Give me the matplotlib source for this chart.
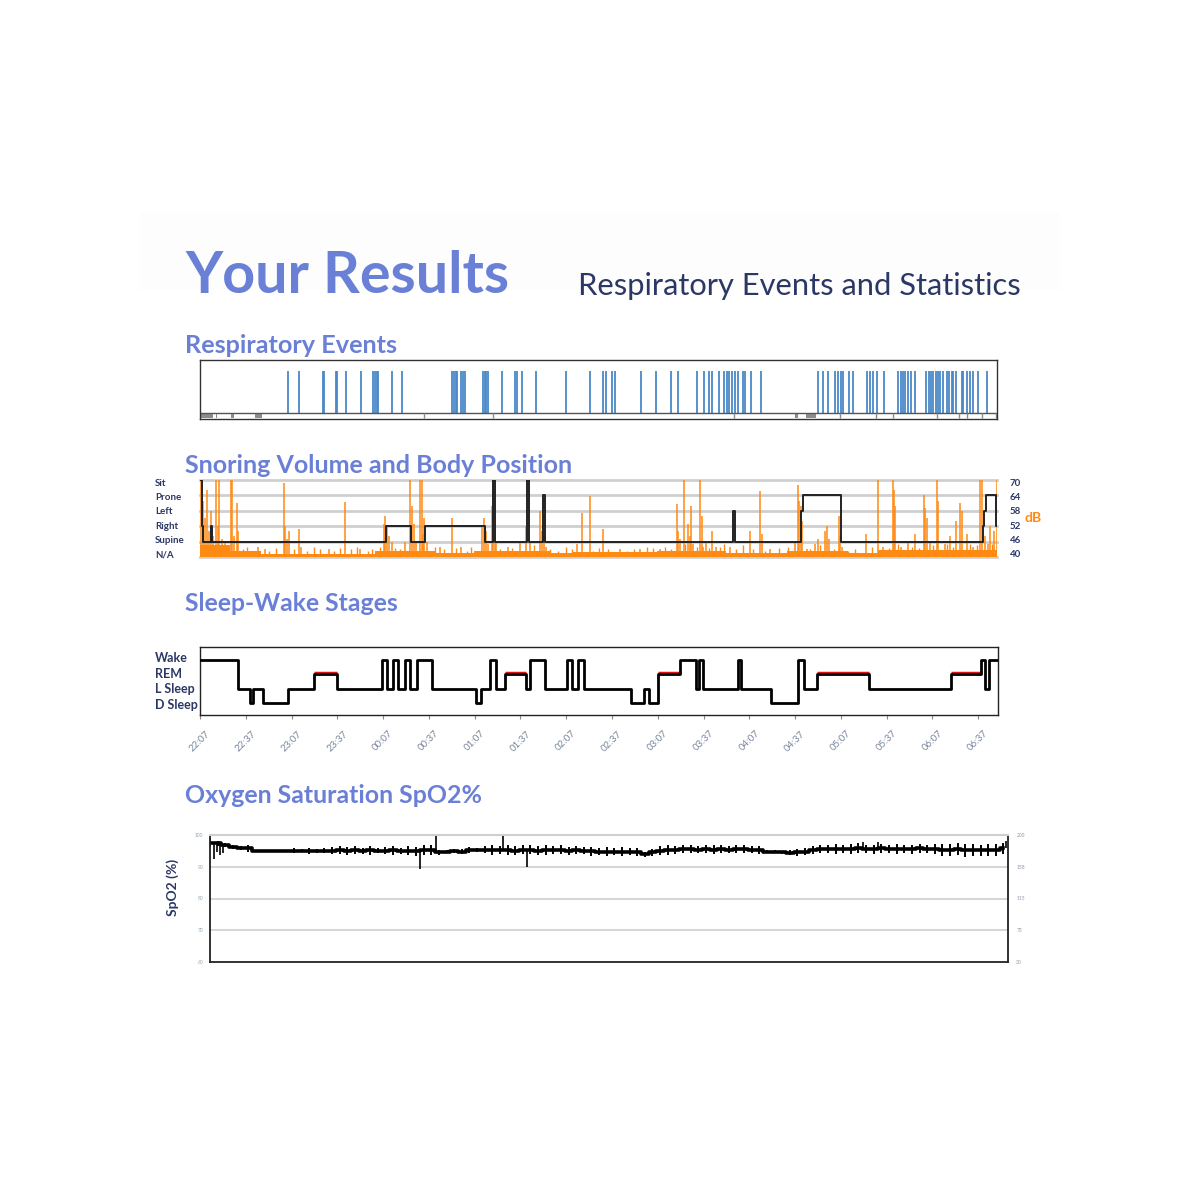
import numpy as np
import matplotlib
matplotlib.use('Agg')
import matplotlib.pyplot as plt
from matplotlib.patches import Rectangle

plt.rcParams['font.family'] = ['Lato', 'DejaVu Sans']

# ---- data (x = minutes since 22:07) ----
night_len = 523

event_t = [57.9, 65.2, 80.5, 81.4, 89.0, 89.9, 95.6, 105.8, 113.7, 114.8, 115.9, 116.8,
           126.2, 132.6, 165.6, 166.7, 167.7, 168.7, 171.3, 172.4, 173.9, 185.9, 187.0,
           188.0, 189.1, 198.0, 206.7, 208.0, 211.6, 220.5, 240.0, 255.6, 264.2, 266.4,
           270.2, 272.4, 289.2, 299.0, 308.9, 313.7, 326.2, 330.9, 334.2, 335.7, 340.4,
           344.1, 345.7, 347.3, 348.9, 351.1, 353.2, 356.5, 357.6, 361.6, 367.9, 405.3,
           408.9, 411.9, 416.7, 418.8, 420.4, 422.0, 426.1, 428.3, 437.9, 439.7, 441.4,
           444.0, 448.9, 458.0, 459.8, 461.0, 462.6, 464.8, 466.3, 469.2, 476.2, 478.4,
           479.7, 481.1, 483.0, 484.5, 485.6, 487.8, 490.0, 491.6, 493.3, 494.4, 496.1,
           499.8, 500.9, 503.1, 505.3, 507.0, 510.7, 516.6]
grey_spans = [(0, 8.5), (10.3, 1.1), (20.3, 2.0), (36.1, 4.8), (390.3, 2.2), (397.8, 6.2)]
grey_ticks = [147.2, 192.4, 350.2, 419.9, 443.3, 455.0, 483.4, 498.3, 503.1, 513.1, 522.3]

pos_names = ['N/A', 'Supine', 'Right', 'Left', 'Prone', 'Sit']
pos_db = [40, 46, 52, 58, 64, 70]
pos_t = [0, 1.0, 2.2, 7.0, 8.1, 121.8, 138.3, 147.6, 187.0, 192.2, 193.6, 214.4, 216.0,
         224.9, 226.4, 350.0, 350.8, 394.4, 395.4, 420.6, 513.5, 514.5, 515.8, 522.6]
pos_v = ['Sit', 'Right', 'Supine', 'Right', 'Supine', 'Right', 'Supine', 'Right', 'Supine',
         'Sit', 'Supine', 'Sit', 'Supine', 'Prone', 'Supine', 'Left', 'Supine', 'Left',
         'Prone', 'Supine', 'Right', 'Left', 'Prone', 'Right']

base_t = [0, 20, 40, 115, 155, 180, 230, 245, 300, 345, 385, 425, 445, 523]
base_db = [44.5, 42.5, 41.3, 42.3, 41.5, 42.3, 41.5, 41.8, 42.3, 41.5, 42.5, 41.6, 42.6, 42.6]

snore_t = [0.7, 2.0, 3.3, 4.6, 5.9, 7.2, 8.5, 10.5, 11.8, 12.5, 14.4, 16.4, 20.1, 21.2, 22.3,
           24.3, 24.9, 38.1, 42.7, 55.3, 56.1, 57.1, 58.4, 65.2, 66.3, 84.7, 95.1, 105.0,
           120.7, 121.7, 122.7, 124.0, 126.0, 134.5, 137.8, 139.1, 140.4, 141.7, 144.4,
           145.5, 146.3, 147.3, 148.9, 157.5, 165.2, 171.3, 185.0, 186.4, 187.7, 189.0,
           191.6, 192.3, 193.3, 194.2, 202.1, 210.0, 213.9, 216.5, 223.1, 224.4, 225.7,
           227.0, 247.4, 250.5, 255.9, 264.3, 275.6, 288.7, 301.9, 312.8, 313.7, 315.0,
           317.8, 320.2, 321.5, 322.2, 323.5, 328.1, 329.2, 330.3, 332.0, 336.0, 338.6,
           347.8, 360.9, 367.5, 368.6, 374.0, 390.4, 392.4, 393.1, 394.4, 395.0, 398.3,
           403.6, 405.5, 410.1, 411.4, 412.8, 419.3, 419.9, 421.3, 437.0, 444.7, 448.2,
           454.7, 455.4, 456.1, 460.0, 464.6, 469.2, 475.1, 475.7, 477.1, 479.0, 483.4,
           484.3, 488.9, 492.2, 496.1, 498.7, 500.0, 503.3, 507.3, 511.8, 513.2, 515.1,
           517.1, 518.4, 521.0, 522.8]
snore_db = [70, 62, 55, 66, 50, 58, 48, 70, 52, 70, 47, 46, 70, 70, 48,
            61, 50, 44, 43, 69, 52, 47, 50, 51, 44, 43, 61.6, 43,
            53, 56, 52, 48, 46, 46, 70, 60, 53, 46, 70,
            70, 49, 55, 46, 44, 55, 44, 52, 55, 50, 45,
            60, 70, 50, 46, 44, 46, 52, 46, 58, 50, 48,
            44, 45, 57, 63.6, 51, 43, 43, 43, 60.5, 50, 47,
            70, 53, 48, 60, 45, 70, 56, 44, 46, 50, 44,
            44, 50, 65.6, 49, 43, 46, 68, 62, 60, 54, 43,
            45, 47, 50, 52, 47, 56, 48, 44, 49, 70, 44,
            70, 66, 60, 44, 46, 49, 64, 59, 55, 46, 70,
            62, 45, 48, 54, 61, 58, 49, 44, 70, 70, 48,
            45, 52, 50, 70]
small_t = [28, 31, 45, 50, 62, 70, 75, 79, 88, 92, 99, 103, 110, 113, 118, 128, 131, 150, 154,
           160, 168, 175, 178, 197, 205, 219, 230, 235, 240, 244, 258, 262, 268, 280, 285, 293,
           297, 305, 309, 318, 326, 334, 341, 344, 352, 356, 363, 371, 380, 386, 400, 407, 416,
           425, 430, 441, 452, 458, 467, 472, 481, 490, 494, 505, 510, 520]
small_db = [43, 44, 42.5, 43.5, 43, 42.5, 44, 43, 42.5, 43.5, 43, 44, 42.5, 43, 44, 43.5, 43,
            42.5, 44, 43, 43.5, 42.5, 44, 43, 43.5, 44.5, 43, 42.5, 44, 43, 42.5, 43.5, 43,
            42.5, 43, 44, 43.5, 44, 43, 45, 44, 43.5, 44, 45, 43, 44.5, 43, 42.5, 43.5, 44,
            43, 44.5, 43, 42.5, 43, 44, 43.5, 45, 44, 43.5, 44.5, 45, 44, 45, 44.5, 45]

stage_names = ['D Sleep', 'L Sleep', 'REM', 'Wake']
stage_code = {'D': 1, 'L': 2, 'R': 3, 'W': 4}
stage_t = [0, 25.1, 32.8, 35.0, 41.3, 57.5, 74.6, 89.9, 119.1, 122.4, 126.4, 129.6, 134.4,
           137.8, 142.0, 152.0, 181.1, 184.4, 190.3, 194.2, 200.1, 213.9, 216.5, 226.2,
           240.3, 243.8, 247.6, 251.6, 282.7, 291.2, 294.4, 300.2, 314.9, 324.8, 327.0,
           329.9, 352.3, 354.5, 374.3, 392.2, 395.6, 404.4, 438.4, 492.3, 512.0, 514.8, 517.0]
stage_v = ['W', 'L', 'D', 'L', 'D', 'L', 'R', 'L', 'W', 'L', 'W', 'L', 'W', 'L', 'W', 'L',
           'D', 'L', 'W', 'L', 'R', 'L', 'W', 'L', 'W', 'L', 'W', 'L', 'D', 'L', 'D', 'R',
           'W', 'L', 'W', 'L', 'W', 'L', 'D', 'W', 'L', 'R', 'L', 'R', 'W', 'L', 'W']
tick_t = [0, 30, 60, 90, 120, 150, 180, 210, 240, 270, 300, 330, 360, 390, 420, 450, 480, 510]
tick_lbl = ['22:07', '22:37', '23:07', '23:37', '00:07', '00:37', '01:07', '01:37', '02:07',
            '02:37', '03:07', '03:37', '04:07', '04:37', '05:07', '05:37', '06:07', '06:37']

spo2_t = [0, 5, 10, 15, 20, 25, 30, 35, 40, 45, 50, 55, 60, 65, 70, 75, 80, 85, 90, 95, 100,
          105, 110, 115, 120, 125, 130, 135, 140, 145, 150, 155, 160, 165, 170, 175, 180, 185,
          190, 195, 200, 205, 210, 215, 220, 225, 230, 235, 240, 245, 250, 255, 260, 265, 270,
          275, 280, 285, 290, 295, 300, 305, 310, 315, 320, 325, 330, 335, 340, 345, 350, 355,
          360, 365, 370, 375, 380, 385, 390, 395, 400, 405, 410, 415, 420, 425, 430, 435, 440,
          445, 450, 455, 460, 465, 470, 475, 480, 485, 490, 495, 500, 505, 510, 515, 520]
spo2_hi = [98.9, 98.2, 97.6, 96.9, 96.6, 97.0, 95.4, 95.3, 95.4, 95.3, 95.4, 95.9, 95.6, 96.0,
           95.7, 95.8, 96.1, 96.5, 96.2, 96.6, 96.0, 96.5, 95.8, 96.3, 96.6, 96.0, 96.4, 96.2,
           97.0, 96.8, 95.4, 95.2, 95.5, 95.6, 96.3, 96.0, 96.4, 96.8, 96.5, 96.9, 96.6, 96.8,
           96.7, 96.4, 96.9, 96.5, 96.7, 96.3, 96.6, 96.2, 96.3, 96.0, 96.2, 95.8, 96.1, 95.9,
           96.0, 94.8, 95.6, 96.4, 96.8, 96.5, 96.9, 96.8, 96.6, 97.0, 96.7, 96.8, 96.5, 96.7,
           96.9, 96.4, 96.6, 95.4, 95.2, 95.0, 95.3, 95.5, 95.8, 96.6, 97.0, 96.8, 97.3, 96.9,
           97.1, 97.4, 96.8, 97.0, 97.2, 96.9, 97.1, 96.8, 97.0, 97.3, 96.9, 97.2, 97.3, 97.1,
           97.4, 97.2, 97.3, 97.0, 97.3, 97.2, 97.5]
spo2_lo = [96.3, 96.6, 96.3, 95.6, 95.4, 94.8, 94.7, 94.8, 94.7, 94.7, 94.8, 94.2, 94.5, 94.1,
           94.4, 94.2, 94.0, 94.0, 93.8, 94.1, 94.0, 93.8, 94.2, 93.9, 93.7, 94.0, 93.8, 93.5,
           93.6, 93.8, 93.8, 94.3, 94.2, 94.0, 94.4, 94.6, 94.3, 93.8, 94.0, 93.7, 93.6, 93.9,
           94.0, 93.7, 93.8, 94.1, 93.9, 93.8, 94.0, 93.9, 93.4, 93.6, 93.3, 93.7, 93.4, 93.6,
           93.5, 93.2, 93.4, 93.8, 93.7, 94.0, 94.2, 94.3, 94.2, 94.4, 94.1, 94.3, 94.2, 94.4,
           94.2, 94.3, 94.1, 94.2, 94.3, 94.0, 93.6, 93.5, 93.7, 94.0, 94.2, 94.4, 94.1, 94.3,
           94.0, 94.2, 94.4, 94.1, 94.3, 94.2, 94.0, 94.3, 94.1, 94.2, 94.4, 93.9, 93.5, 93.3,
           93.6, 93.2, 93.4, 93.3, 93.5, 93.4, 94.0]
spike_t = [2.6, 4.6, 6.6, 8.5, 137.6, 147.9, 192.2, 207.8, 428.0, 437.8, 522.0]
spike_v = [92.5, 94.5, 93.8, 94.2, 89.2, 100.0, 99.6, 90.0, 97.8, 97.8, 98.0]
spo2_ticks = [60, 70, 80, 90, 100]
pulse_ticks = ['30', '73', '115', '158', '200']

# ---- colours ----
blue_head = '#6a7fd6'
navy = '#2b3866'
orange = '#ff8a12'
ev_blue = '#4a88c8'


def fx(px):
    return px / 1200


def fy(py):
    return 1 - py / 1200


fig = plt.figure(figsize=(12, 12), dpi=100)
fig.patch.set_facecolor('white')
fig.patches.append(Rectangle((fx(140), fy(290)), fx(920), 77 / 1200, transform=fig.transFigure,
                             facecolor='#fdfdfd', edgecolor='none', zorder=0))

fig.text(fx(185), fy(293), 'Your Results', fontsize=41.3, fontweight='bold', color=blue_head, va='baseline')
fig.text(fx(1021), fy(295), 'Respiratory Events and Statistics', fontsize=22.2, color=navy,
         ha='right', va='baseline')
fig.text(fx(185), fy(353), 'Respiratory Events', fontsize=18.2, fontweight='bold', color=blue_head, va='baseline')
fig.text(fx(185), fy(473), 'Snoring Volume and Body Position', fontsize=18, fontweight='bold', color=blue_head, va='baseline')
fig.text(fx(185), fy(611), 'Sleep-Wake Stages', fontsize=17.8, fontweight='bold', color=blue_head, va='baseline')
fig.text(fx(185), fy(803), 'Oxygen Saturation SpO2%', fontsize=17.9, fontweight='bold', color=blue_head, va='baseline')

# respiratory events
ax1 = fig.add_axes([fx(200), fy(419), fx(797), 59 / 1200])
ax1.set_xlim(0, night_len)
ax1.set_ylim(0, 1)
ax1.vlines(event_t, 0.11, 0.82, color=ev_blue, lw=1.3)
ax1.axhline(0.11, color='#555555', lw=1)
ax1.broken_barh(grey_spans, (0.02, 0.09), facecolor='#8c8c8c')
ax1.vlines(grey_ticks, 0.02, 0.11, color='#8c8c8c', lw=1)
ax1.set_xticks([])
ax1.set_yticks([])
for s in ax1.spines.values():
    s.set_color('#333333')
    s.set_linewidth(1)

# snoring + body position
ax2 = fig.add_axes([fx(200), fy(557), fx(797), 77 / 1200])
ax2.set_xlim(0, night_len)
ax2.set_ylim(40, 70)
for d in pos_db:
    ax2.axhline(d, color='#cfcfcf', lw=2, zorder=0, clip_on=False)
ax2.fill_between(base_t, 40, base_db, step='post', color=orange, lw=0, zorder=1)
ax2.vlines(small_t, 40, small_db, color=orange, lw=1, zorder=1)
ax2.vlines(snore_t, 40, snore_db, color=orange, lw=1.3, alpha=0.85, zorder=1)
pos_y = [pos_db[pos_names.index(p)] for p in pos_v]
ax2.step(pos_t + [night_len], pos_y + [pos_y[-1]], where='post', color='#222222', lw=1.4, zorder=3)
ax2.set_xticks([])
ax2.set_yticks([])
for s in ax2.spines.values():
    s.set_visible(False)
for name, d in zip(pos_names, pos_db):
    ly = 40.8 + (d - 40) * 28 / 30
    ax2.text(-0.0565, ly, name, transform=ax2.get_yaxis_transform(), ha='left', va='center',
             fontsize=7, fontweight='bold', color=navy)
    ax2.text(1.0163, ly, str(d), transform=ax2.get_yaxis_transform(), ha='left', va='center',
             fontsize=7, fontweight='bold', color=navy)
ax2.text(1.035, 55.2, 'dB', transform=ax2.get_yaxis_transform(), ha='left', va='center',
         fontsize=10, fontweight='bold', color=orange)

# sleep stages
ax3 = fig.add_axes([fx(200), fy(715), fx(798), 68 / 1200])
ax3.set_xlim(0, night_len)
ax3.set_ylim(0.16, 4.9)
lv = [stage_code[s] for s in stage_v]
bounds = stage_t + [night_len]
for i, s in enumerate(stage_v):
    if s == 'R':
        ax3.hlines(3.1, bounds[i], bounds[i + 1], color='#e01010', lw=2.5, zorder=2)
ax3.step(stage_t + [night_len], lv + [lv[-1]], where='post', color='black', lw=2, zorder=3)
ax3.set_yticks([])
ax3.set_xticks(tick_t)
ax3.set_xticklabels(tick_lbl, rotation=45, ha='center', va='top', fontsize=7, color='#76849c')
ax3.tick_params(axis='x', length=3, color='#888888', pad=7)
for s in ax3.spines.values():
    s.set_color('#222222')
    s.set_linewidth(1)
for name, k in zip(stage_names, [1, 2, 3, 4]):
    ax3.text(-0.0564, k + (k - 2.5) * 0.08, name, transform=ax3.get_yaxis_transform(), ha='left',
             va='center', fontsize=9, fontweight='bold', color=navy)

# SpO2
ax4 = fig.add_axes([fx(210), fy(962), fx(798), 127 / 1200])
ax4.set_xlim(0, night_len)
ax4.set_ylim(60, 100)
for g in [70, 80, 90]:
    ax4.axhline(g, color='#d2d2d2', lw=1.3, zorder=0)
ax4.vlines(spo2_t, spo2_lo, spo2_hi, color='black', lw=1.4)
mid = [(a + b) / 2 for a, b in zip(spo2_lo, spo2_hi)]
ax4.step(spo2_t, mid, where='mid', color='black', lw=2.6)
base_spo2 = [mid[min(range(len(spo2_t)), key=lambda j: abs(spo2_t[j] - t))] for t in spike_t]
ax4.vlines(spike_t, base_spo2, spike_v, color='black', lw=1.2)
ax4.set_xticks([])
ax4.set_yticks(spo2_ticks)
ax4.set_yticklabels([str(v) for v in spo2_ticks], fontsize=3.5, color='#8fa6b6')
ax4.tick_params(axis='y', length=0, pad=5)
for side in ['left', 'right', 'bottom']:
    ax4.spines[side].set_color('#222222')
    ax4.spines[side].set_linewidth(1.3)
ax4.spines['top'].set_color('#cfcfcf')
ax4.spines['top'].set_linewidth(1.5)
ax4r = ax4.twinx()
ax4r.set_ylim(60, 100)
ax4r.set_yticks(spo2_ticks)
ax4r.set_yticklabels(pulse_ticks, fontsize=3.5, color='#8f98aa')
ax4r.tick_params(axis='y', length=0, pad=6)
for s in ax4r.spines.values():
    s.set_visible(False)
fig.text(fx(173), fy(887), 'SpO2 (%)', rotation=90, fontsize=10, fontweight='bold', color=navy,
         ha='center', va='center')

fig.savefig('out.png', dpi=100)
